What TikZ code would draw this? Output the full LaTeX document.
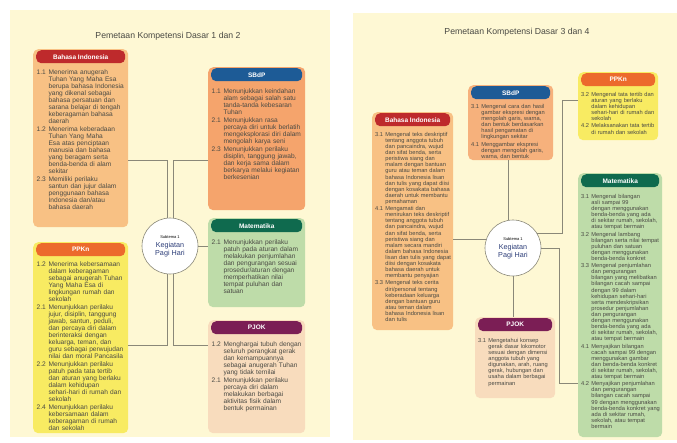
\documentclass[tikz,border=0pt]{standalone}
\usepackage{fontspec}
\setmainfont{Liberation Sans}
\usetikzlibrary{positioning}

\definecolor{krem}{HTML}{FEF8D4}
\definecolor{merah}{HTML}{BE2A2C}
\definecolor{jingga}{HTML}{EC6A2C}
\definecolor{biru}{HTML}{1D5B96}
\definecolor{hijau}{HTML}{0F6A4E}
\definecolor{ungu}{HTML}{7B1E55}
\definecolor{tanmuda}{HTML}{F8C184}
\definecolor{kuning}{HTML}{F8EB62}
\definecolor{salem}{HTML}{F5A46C}
\definecolor{salemmuda}{HTML}{F6B17C}
\definecolor{hijaumuda}{HTML}{BEDCA9}
\definecolor{persik}{HTML}{F8DCBD}
\definecolor{abu}{HTML}{8A8878}
\definecolor{tulisan}{HTML}{4A4A44}
\definecolor{navy}{HTML}{2C3D78}

\hyphenpenalty=10000
\exhyphenpenalty=10000
\newcommand{\butirkd}[2]{\par\hangindent=1.8em\hangafter=1\noindent\makebox[1.8em][l]{#1}#2\par\vspace{1.1pt}}

\begin{document}
\begin{tikzpicture}
		[x=1pt, y=-1pt,
		halaman/.style={fill=krem},
		kotak/.style={anchor=north west, rounded corners=5pt, inner sep=0pt},
		kepala/.style={
			rounded corners=5pt,
			text=white,
			font=\bfseries\fontsize{6.5}{7}\selectfont,
			minimum height=13pt,
			inner sep=0pt
		},
		isi/.style={anchor=north west, align=left, inner sep=0pt, text=tulisan, font=\fontsize{6.6}{7}\selectfont},
		isikecil/.style={isi, font=\fontsize{5.7}{6.1}\selectfont},
		pusat/.style={circle, draw=abu, fill=white, line width=0.6pt, minimum size=56pt, inner sep=0pt, align=center, font=\fontsize{7.2}{8}\selectfont},
		hubung/.style={draw=abu, line width=0.7pt},
		judul/.style={font=\fontsize{8.7}{10}\selectfont, text=tulisan}]
		\useasboundingbox (0,0) rectangle (677,442);
		\fill[halaman] (10,10) rectangle (330,437);
		\fill[halaman] (353,13) rectangle (677,440);
		\node[judul] (judul1) at (168,36) {Pemetaan Kompetensi Dasar 1 dan 2};
		\node[judul] (judul2) at (517,32) {Pemetaan Kompetensi Dasar 3 dan 4};

		% halaman kiri
		\node[pusat] (pusat1) at (170,246) {{\fontsize{4}{6}\selectfont Subtema 1}\\[1pt]\textcolor{navy}{Kegiatan}\\\textcolor{navy}{Pagi Hari}};

		\node[kotak, fill=tanmuda, minimum width=95pt, minimum height=178pt] (bi1) at (33,49) {};
		\node[kepala, fill=merah, minimum width=89pt, below=1pt of bi1.north] (bi1k) {Bahasa Indonesia};
		\node[isi, text width=88pt, below right=18pt and 3.5pt of bi1.north west] (bi1t) {
			\butirkd{1.1}{Menerima anugerah Tuhan Yang Maha Esa berupa bahasa Indonesia yang dikenal sebagai bahasa persatuan dan sarana belajar di tengah keberagaman bahasa daerah}
			\butirkd{1.2}{Menerima keberadaan Tuhan Yang Maha Esa atas penciptaan manusia dan bahasa yang beragam serta benda-benda di alam sekitar}
			\butirkd{2.3}{Memiliki perilaku santun dan jujur dalam penggunaan bahasa Indonesia dan/atau bahasa daerah}
		};

		\node[kotak, fill=kuning, minimum width=95pt, minimum height=191pt] (ppkn1) at (33,242) {};
		\node[kepala, fill=jingga, minimum width=89pt, below=1pt of ppkn1.north] (ppkn1k) {PPKn};
		\node[isi, text width=88pt, below right=17pt and 3.5pt of ppkn1.north west] (ppkn1t) {
			\butirkd{1.2}{Menerima kebersamaan dalam keberagaman sebagai anugerah Tuhan Yang Maha Esa di lingkungan rumah dan sekolah}
			\butirkd{2.1}{Menunjukkan perilaku jujur, disiplin, tanggung jawab, santun, peduli, dan percaya diri dalam berinteraksi dengan keluarga, teman, dan guru sebagai perwujudan nilai dan moral Pancasila}
			\butirkd{2.2}{Menunjukkan perilaku patuh pada tata tertib dan aturan yang berlaku dalam kehidupan sehari-hari di rumah dan sekolah}
			\butirkd{2.4}{Menunjukkan perilaku kebersamaan dalam keberagaman di rumah dan sekolah}
		};

		\node[kotak, fill=salem, minimum width=97pt, minimum height=143pt] (sbdp1) at (208,67) {};
		\node[kepala, fill=biru, minimum width=91pt, below=1pt of sbdp1.north] (sbdp1k) {SBdP};
		\node[isi, text width=90pt, below right=19pt and 3.5pt of sbdp1.north west] (sbdp1t) {
			\butirkd{1.1}{Menunjukkan keindahan alam sebagai salah satu tanda-tanda kebesaran Tuhan}
			\butirkd{2.1}{Menunjukkan rasa percaya diri untuk berlatih mengeksplorasi diri dalam mengolah karya seni}
			\butirkd{2.3}{Menunjukkan perilaku disiplin, tanggung jawab, dan kerja sama dalam berkarya melalui kegiatan berkesenian}
		};

		\node[kotak, fill=hijaumuda, minimum width=97pt, minimum height=89pt] (mtk1) at (208,218) {};
		\node[kepala, fill=hijau, minimum width=91pt, below=1pt of mtk1.north] (mtk1k) {Matematika};
		\node[isi, text width=90pt, below right=19pt and 3.5pt of mtk1.north west] (mtk1t) {
			\butirkd{2.1}{Menunjukkan perilaku patuh pada aturan dalam melakukan penjumlahan dan pengurangan sesuai prosedur/aturan dengan memperhatikan nilai tempat puluhan dan satuan}
		};

		\node[kotak, fill=persik, minimum width=97pt, minimum height=113pt] (pjok1) at (208,320) {};
		\node[kepala, fill=ungu, minimum width=91pt, below=1pt of pjok1.north] (pjok1k) {PJOK};
		\node[isi, text width=90pt, below right=19pt and 3.5pt of pjok1.north west] (pjok1t) {
			\butirkd{1.2}{Menghargai tubuh dengan seluruh perangkat gerak dan kemampuannya sebagai anugerah Tuhan yang tidak ternilai}
			\butirkd{2.1}{Menunjukkan perilaku percaya diri dalam melakukan berbagai aktivitas fisik dalam bentuk permainan}
		};

		\draw[hubung] (pusat1.96) |- ([yshift=-22pt]bi1.east);
		\draw[hubung] (pusat1.84) |- ([yshift=-21.5pt]sbdp1.west);
		\draw[hubung] (pusat1.264) |- ([yshift=-7.5pt]ppkn1.east);
		\draw[hubung] (pusat1.276) |- ([yshift=31.5pt]pjok1.west);
		\draw[hubung] (pusat1.east) -- (mtk1.west |- pusat1.east);

		% halaman kanan
		\node[pusat] (pusat2) at (513,248) {{\fontsize{4}{6}\selectfont Subtema 1}\\[1pt]\textcolor{navy}{Kegiatan}\\\textcolor{navy}{Pagi Hari}};

		\node[kotak, fill=salemmuda, minimum width=85pt, minimum height=75pt] (sbdp2) at (468,85) {};
		\node[kepala, fill=biru, minimum width=79pt, below=1pt of sbdp2.north] (sbdp2k) {SBdP};
		\node[isikecil, text width=79pt, below right=17pt and 3pt of sbdp2.north west] (sbdp2t) {
			\butirkd{3.1}{Mengenal cara dan hasil gambar ekspresi dengan mengolah garis, warna, dan bentuk berdasarkan hasil pengamatan di lingkungan sekitar}
			\butirkd{4.1}{Menggambar ekspresi dengan mengolah garis, warna, dan bentuk}
		};

		\node[kotak, fill=tanmuda, minimum width=81pt, minimum height=218pt] (bi2) at (372,112) {};
		\node[kepala, fill=merah, minimum width=75pt, below=1pt of bi2.north] (bi2k) {Bahasa Indonesia};
		\node[isikecil, text width=76pt, below right=18pt and 3pt of bi2.north west] (bi2t) {
			\butirkd{3.1}{Mengenal teks deskriptif tentang anggota tubuh dan pancaindra, wujud dan sifat benda, serta peristiwa siang dan malam dengan bantuan guru atau teman dalam bahasa Indonesia lisan dan tulis yang dapat diisi dengan kosakata bahasa daerah untuk membantu pemahaman}
			\butirkd{4.1}{Mengamati dan menirukan teks deskriptif tentang anggota tubuh dan pancaindra, wujud dan sifat benda, serta peristiwa siang dan malam secara mandiri dalam bahasa Indonesia lisan dan tulis yang dapat diisi dengan kosakata bahasa daerah untuk membantu penyajian}
			\butirkd{3.3}{Mengenal teks cerita diri/personal tentang keberadaan keluarga dengan bantuan guru atau teman dalam bahasa Indonesia lisan dan tulis}
		};

		\node[kotak, fill=kuning, minimum width=80pt, minimum height=68pt] (ppkn2) at (578,72) {};
		\node[kepala, fill=jingga, minimum width=74pt, below=1pt of ppkn2.north] (ppkn2k) {PPKn};
		\node[isikecil, text width=75pt, below right=18pt and 3pt of ppkn2.north west] (ppkn2t) {
			\butirkd{3.2}{Mengenal tata tertib dan aturan yang berlaku dalam kehidupan sehari-hari di rumah dan sekolah}
			\butirkd{4.2}{Melaksanakan tata tertib di rumah dan sekolah}
		};

		\node[kotak, fill=hijaumuda, minimum width=84pt, minimum height=264pt] (mtk2) at (578,173) {};
		\node[kepala, fill=hijau, minimum width=78pt, below=1pt of mtk2.north] (mtk2k) {Matematika};
		\node[isikecil, text width=79pt, below right=19pt and 3pt of mtk2.north west] (mtk2t) {
			\butirkd{3.1}{Mengenal bilangan asli sampai 99 dengan menggunakan benda-benda yang ada di sekitar rumah, sekolah, atau tempat bermain}
			\butirkd{3.2}{Mengenal lambang bilangan serta nilai tempat puluhan dan satuan dengan menggunakan benda-benda konkret}
			\butirkd{3.3}{Mengenal penjumlahan dan pengurangan bilangan yang melibatkan bilangan cacah sampai dengan 99 dalam kehidupan sehari-hari serta mendeskripsikan prosedur penjumlahan dan pengurangan dengan menggunakan benda-benda yang ada di sekitar rumah, sekolah, atau tempat bermain}
			\butirkd{4.1}{Menyajikan bilangan cacah sampai 99 dengan menggunakan gambar dan benda-benda konkret di sekitar rumah, sekolah, atau tempat bermain}
			\butirkd{4.2}{Menyajikan penjumlahan dan pengurangan bilangan cacah sampai 99 dengan menggunakan benda-benda konkret yang ada di sekitar rumah, sekolah, atau tempat bermain}
		};

		\node[kotak, fill=persik, minimum width=80pt, minimum height=81pt] (pjok2) at (475,317) {};
		\node[kepala, fill=ungu, minimum width=74pt, below=1pt of pjok2.north] (pjok2k) {PJOK};
		\node[isikecil, text width=75pt, below right=19pt and 3pt of pjok2.north west] (pjok2t) {
			\butirkd{3.1}{Mengetahui konsep gerak dasar lokomotor sesuai dengan dimensi anggota tubuh yang digunakan, arah, ruang gerak, hubungan dan usaha dalam berbagai permainan}
		};

		\coordinate (belok1) at (562,100);
		\coordinate (belok2) at (559,383);
		\draw[hubung] (pusat2.100) -- (pusat2.100 |- sbdp2.south);
		\draw[hubung] (pusat2.163) -- (bi2.east |- pusat2.163);
		\draw[hubung] (pusat2.south) -- (pusat2.south |- pjok2.north);
		\draw[hubung] (pusat2.32) -| (belok1) -- (ppkn2.west |- belok1);
		\draw[hubung] (pusat2.east) -| (belok2) -- (mtk2.west |- belok2);
\end{tikzpicture}
\end{document}
